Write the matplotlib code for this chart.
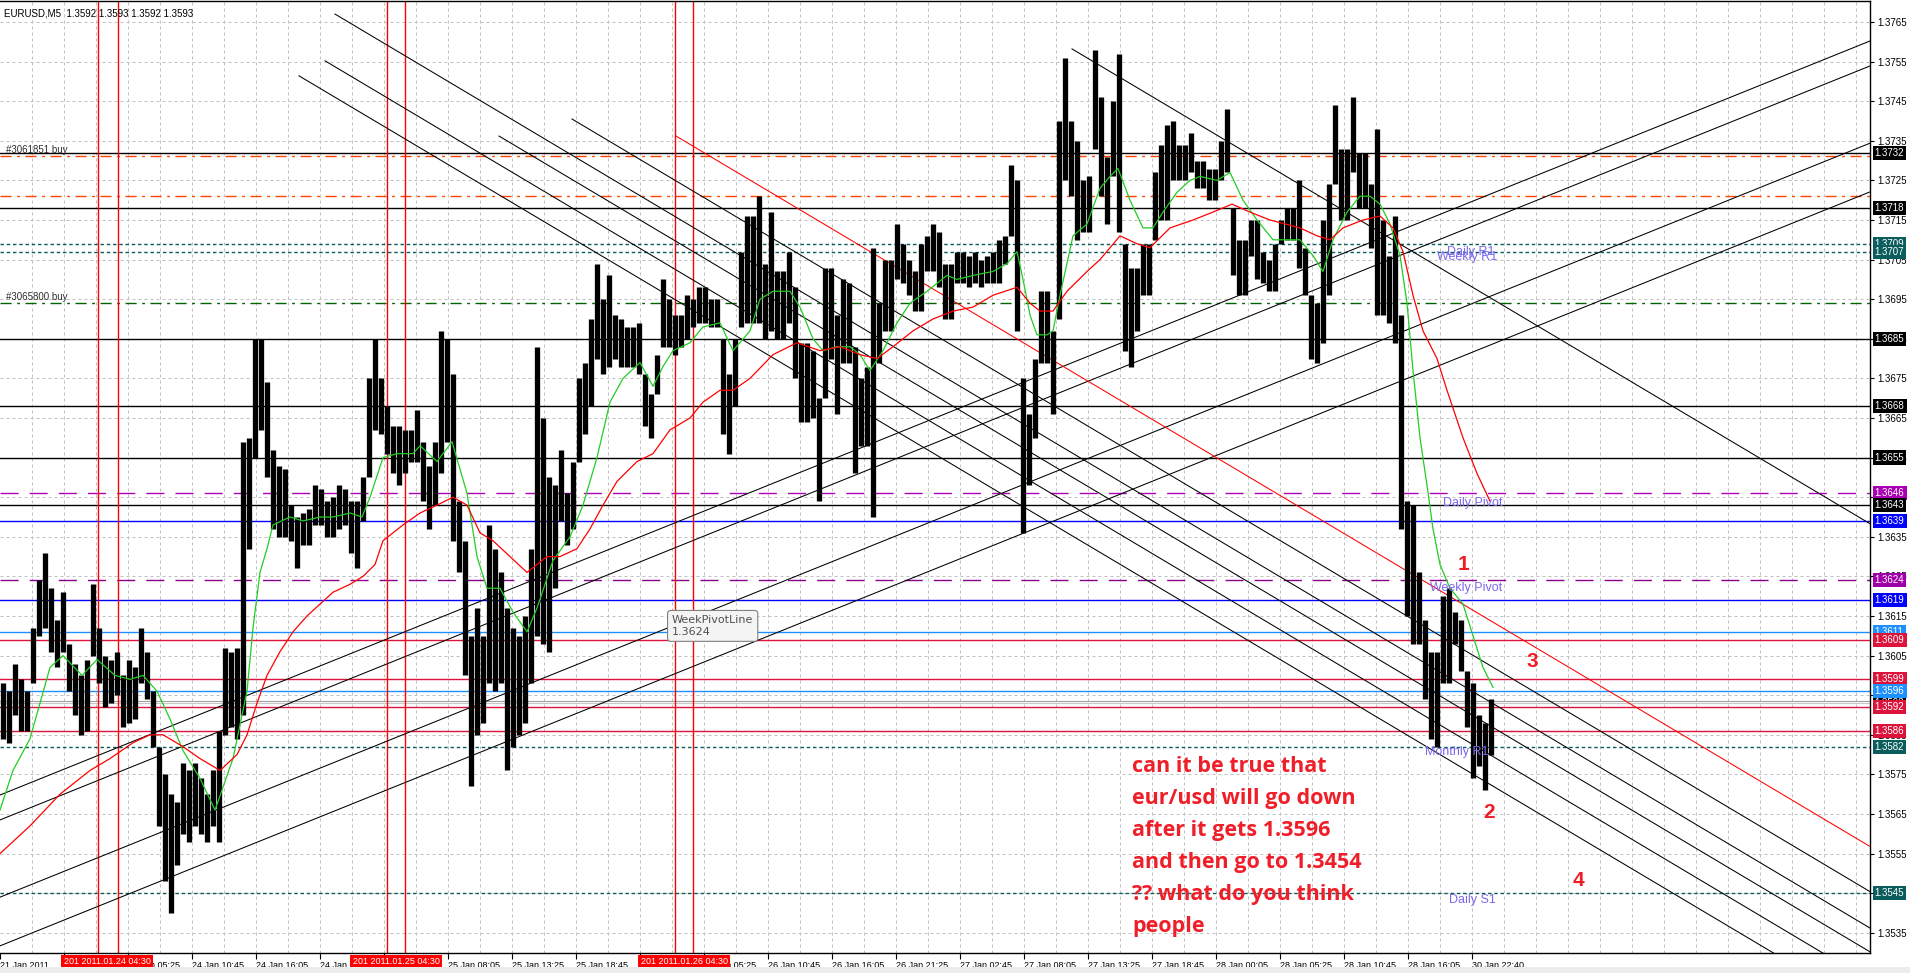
import numpy as np
import matplotlib.pyplot as plt
from matplotlib.transforms import blended_transform_factory

plt.rcParams['font.family'] = ['Liberation Sans', 'DejaVu Sans']

# EURUSD M5, grouped by 6 bars (30 min); highs / lows in pips (3596 -> 1.3596)
BARS_PER_BUCKET = 6
bucket_high = [
    3598, 3596, 3603, 3599, 3596, 3612, 3624, 3631, 3622, 3614,
    3621, 3608, 3603, 3600, 3604, 3623, 3612, 3605, 3604, 3606,
    3600, 3604, 3602, 3612, 3606, 3596, 3582, 3575, 3570, 3568,
    3578, 3576, 3578, 3574, 3570, 3576, 3586, 3607, 3606, 3607,
    3659, 3660, 3685, 3685, 3674, 3657, 3653, 3652, 3643, 3640,
    3641, 3642, 3648, 3647, 3644, 3645, 3648, 3647, 3644, 3644,
    3650, 3675, 3685, 3675, 3668, 3663, 3663, 3662, 3662, 3667,
    3659, 3653, 3659, 3687, 3685, 3676, 3644, 3634, 3610, 3617,
    3610, 3638, 3632, 3626, 3617, 3612, 3610, 3615, 3632, 3683,
    3665, 3650, 3648, 3657, 3646, 3654, 3675, 3679, 3690, 3704,
    3695, 3701, 3691, 3690, 3688, 3688, 3689, 3676, 3671, 3681,
    3700, 3695, 3691, 3691, 3696, 3695, 3698, 3698, 3695, 3695,
    3685, 3676, 3685, 3707, 3716, 3716, 3721, 3704, 3717, 3702,
    3702, 3707, 3698, 3684, 3684, 3682, 3670, 3703, 3703, 3691,
    3700, 3699, 3683, 3675, 3678, 3708, 3694, 3705, 3705, 3714,
    3709, 3705, 3702, 3709, 3711, 3714, 3712, 3704, 3704, 3707,
    3707, 3706, 3707, 3705, 3706, 3707, 3710, 3711, 3729, 3725,
    3675, 3666, 3680, 3697, 3697, 3687, 3740, 3756, 3740, 3735,
    3725, 3726, 3758, 3746, 3731, 3745, 3757, 3709, 3703, 3703,
    3709, 3709, 3727, 3734, 3739, 3740, 3734, 3734, 3737, 3730,
    3730, 3728, 3728, 3735, 3743, 3718, 3710, 3710, 3715, 3715,
    3707, 3705, 3709, 3715, 3718, 3718, 3725, 3708, 3696, 3694,
    3715, 3724, 3744, 3733, 3733, 3746, 3732, 3732, 3724, 3738,
    3715, 3706, 3716, 3691, 3644, 3643, 3626, 3614, 3606, 3606,
    3620, 3622, 3616, 3614, 3601, 3598, 3590, 3588, 3594]
bucket_low = [
    3584, 3583, 3590, 3586, 3586, 3598, 3610, 3612, 3606, 3602,
    3606, 3596, 3590, 3585, 3586, 3605, 3598, 3592, 3593, 3595,
    3587, 3588, 3589, 3598, 3594, 3582, 3562, 3548, 3540, 3552,
    3560, 3558, 3562, 3560, 3558, 3562, 3558, 3585, 3587, 3584,
    3590, 3632, 3655, 3662, 3650, 3637, 3635, 3635, 3634, 3627,
    3633, 3633, 3638, 3638, 3635, 3635, 3637, 3638, 3631, 3627,
    3639, 3650, 3662, 3661, 3656, 3651, 3648, 3651, 3654, 3654,
    3644, 3637, 3643, 3651, 3659, 3634, 3626, 3600, 3572, 3585,
    3588, 3598, 3596, 3598, 3576, 3582, 3585, 3588, 3598, 3610,
    3608, 3606, 3622, 3639, 3633, 3637, 3654, 3661, 3668, 3680,
    3676, 3678, 3680, 3678, 3678, 3678, 3676, 3663, 3660, 3671,
    3683, 3683, 3681, 3683, 3685, 3688, 3689, 3689, 3688, 3688,
    3661, 3656, 3668, 3688, 3689, 3689, 3689, 3685, 3687, 3685,
    3685, 3689, 3675, 3664, 3664, 3665, 3644, 3670, 3680, 3666,
    3679, 3679, 3651, 3658, 3658, 3640, 3679, 3687, 3687, 3700,
    3699, 3696, 3692, 3692, 3702, 3702, 3698, 3690, 3690, 3699,
    3699, 3698, 3699, 3698, 3699, 3699, 3699, 3704, 3711, 3687,
    3636, 3648, 3660, 3679, 3679, 3666, 3690, 3725, 3721, 3710,
    3712, 3712, 3733, 3721, 3714, 3726, 3712, 3682, 3678, 3687,
    3696, 3696, 3710, 3715, 3715, 3725, 3725, 3725, 3727, 3723,
    3723, 3720, 3720, 3725, 3727, 3701, 3696, 3696, 3706, 3700,
    3699, 3697, 3697, 3709, 3710, 3710, 3703, 3696, 3680, 3679,
    3684, 3696, 3724, 3715, 3715, 3727, 3718, 3718, 3708, 3691,
    3691, 3689, 3684, 3637, 3615, 3608, 3608, 3594, 3584, 3582,
    3598, 3598, 3608, 3601, 3587, 3574, 3577, 3571, 3580]

# moving averages: (bar index, pips)
ma_fast_bar = [0, 13, 30, 50, 63, 82, 97, 115, 130, 143, 157, 170, 183, 200, 215, 233, 247, 253, 260, 267,
               273, 290, 303, 320, 333, 350, 362, 370, 383, 397, 413, 420, 437, 452, 467, 477, 487, 500, 513, 527,
               537, 553, 570, 583, 597, 610, 623, 640, 653, 663, 673, 690, 703, 720, 733, 750, 760, 773, 790, 800,
               813, 823, 837, 850, 860, 870, 883, 897, 910, 927, 947, 957, 973, 993, 1007, 1017, 1023, 1030, 1037, 1047,
               1053, 1060, 1073, 1087, 1100, 1110, 1118, 1130, 1143, 1153, 1163, 1177, 1190, 1200, 1217, 1230, 1243, 1257, 1273, 1290,
               1300, 1313, 1323, 1333, 1347, 1360, 1370, 1380, 1390, 1400, 1407, 1413, 1420, 1427, 1433, 1440, 1450, 1463, 1473, 1483,
               1493]
ma_fast_pips = [3566, 3576, 3584, 3602, 3605, 3600, 3604, 3600, 3599, 3600, 3596, 3589, 3581, 3574, 3566, 3579, 3596, 3612, 3626, 3632,
                3638, 3640, 3639, 3640, 3640, 3641, 3640, 3645, 3655, 3656, 3656, 3658, 3654, 3659, 3646, 3630, 3622, 3622, 3616, 3611,
                3617, 3629, 3635, 3643, 3655, 3669, 3675, 3679, 3673, 3678, 3682, 3684, 3688, 3689, 3682, 3687, 3695, 3697, 3697, 3693,
                3685, 3682, 3683, 3683, 3681, 3677, 3682, 3689, 3694, 3697, 3701, 3700, 3701, 3702, 3704, 3707, 3700, 3691, 3686, 3686,
                3687, 3696, 3711, 3714, 3723, 3726, 3728, 3720, 3713, 3713, 3717, 3722, 3725, 3726, 3725, 3727, 3720, 3715, 3710, 3710,
                3710, 3706, 3702, 3710, 3717, 3721, 3721, 3719, 3714, 3706, 3694, 3677, 3660, 3648, 3637, 3628, 3622, 3618, 3610, 3602,
                3597]
ma_slow_bar = [0, 30, 60, 90, 110, 133, 150, 163, 183, 200, 220, 237, 247, 257, 267, 280, 293, 307, 320, 333,
               350, 363, 375, 383, 403, 420, 437, 453, 467, 480, 493, 510, 527, 537, 547, 560, 577, 590, 603, 617,
               637, 653, 670, 690, 703, 720, 733, 750, 773, 797, 820, 840, 860, 877, 893, 913, 933, 953, 973, 993,
               1017, 1030, 1040, 1053, 1067, 1087, 1100, 1120, 1137, 1150, 1170, 1193, 1213, 1232, 1250, 1270, 1300, 1317, 1330, 1343,
               1363, 1380, 1393, 1403, 1413, 1423, 1437, 1447, 1463, 1477, 1490]
ma_slow_pips = [3555, 3562, 3570, 3576, 3579, 3583, 3585, 3585, 3582, 3579, 3576, 3580, 3585, 3593, 3600, 3606, 3611, 3615, 3618, 3621,
                3623, 3625, 3628, 3634, 3638, 3641, 3643, 3645, 3643, 3636, 3634, 3630, 3626, 3628, 3630, 3630, 3632, 3637, 3643, 3649,
                3654, 3656, 3662, 3665, 3669, 3672, 3672, 3675, 3681, 3684, 3682, 3683, 3681, 3680, 3683, 3687, 3690, 3692, 3693, 3696,
                3698, 3694, 3692, 3692, 3697, 3702, 3705, 3711, 3709, 3708, 3713, 3715, 3717, 3719, 3717, 3715, 3713, 3711, 3710, 3713,
                3715, 3716, 3713, 3707, 3696, 3687, 3680, 3672, 3660, 3651, 3644]

# horizontal levels
black_levels = [1.3732, 1.3718, 1.3685, 1.3668, 1.3655, 1.3643]
blue_levels = [1.3639, 1.3619]
dodger_levels = [1.3611, 1.3596]
crimson_levels = [1.3609, 1.3599, 1.3592, 1.3586]
pivot_dotted_levels = [1.3709, 1.3707, 1.3582, 1.3545]
pivot_dashed_levels = [1.3646, 1.3624]
order_sl_tp_levels = [1.37311, 1.37210]
order2_level = 1.36941
bid_levels = [1.35935, 1.3593]

# right scale price boxes (price, background)
box_prices = [1.3732, 1.3718, 1.3709, 1.3707, 1.3685, 1.3668, 1.3655, 1.3646, 1.3643, 1.3639,
              1.3624, 1.3619, 1.3611, 1.3609, 1.3599, 1.3593, 1.3596, 1.3592, 1.3586, 1.3582, 1.3545]
box_colors = ['black', 'black', '#0b5c5c', '#0b5c5c', 'black', 'black', 'black', '#a800b4', 'black', '#0000ff',
              '#a000a8', '#0000ff', '#1e90ff', '#dc143c', '#dc143c', 'black', '#1e90ff', '#dc143c', '#dc143c', '#0b5c5c', '#0b5c5c']

# trend lines: (bar1, price1, bar2, price2)
down_lines = [(335, 1.37670, 1870, 1.35362), (325, 1.37552, 1870, 1.35228), (299, 1.37514, 1870, 1.35154),
              (499, 1.37362, 1870, 1.35302), (572, 1.37405, 1870, 1.35454), (1072, 1.37582, 1870, 1.36383)]
red_down_line = (676, 1.37362, 1870, 1.35568)
up_lines = [(0, 1.35698, 1870, 1.37602), (0, 1.35635, 1870, 1.37539),
            (0, 1.35440, 1870, 1.37344), (0, 1.35317, 1870, 1.37221)]

vline_bars = [98, 118, 387, 405, 675, 693]
vline_labels = ['201 2011.01.24 04:30', '201 2011.01.25 04:30', '201 2011.01.26 04:30']
vline_label_bars = [107, 396, 684]

time_ticks = list(range(0, 1473, 64))
time_labels = ['21 Jan 2011', '24 Jan 00:05', '24 Jan 05:25', '24 Jan 10:45', '24 Jan 16:05', '24 Jan 21:25',
               '25 Jan 02:45', '25 Jan 08:05', '25 Jan 13:25', '25 Jan 18:45', '26 Jan 00:05', '26 Jan 05:25',
               '26 Jan 10:45', '26 Jan 16:05', '26 Jan 21:25', '27 Jan 02:45', '27 Jan 08:05', '27 Jan 13:25',
               '27 Jan 18:45', '28 Jan 00:05', '28 Jan 05:25', '28 Jan 10:45', '28 Jan 16:05', '30 Jan 22:40']

level_text = ['Daily R1', 'Weekly R1', 'Daily Pivot', 'Weekly Pivot', 'Monthly R1', 'Daily S1']
level_text_bar = [1447, 1437, 1443, 1430, 1425, 1449]
level_text_price = [1.37069, 1.37057, 1.36435, 1.36221, 1.35807, 1.35433]

wave_marks = ['1', '2', '3', '4']
wave_bar = [1458, 1483, 1526, 1573]
wave_price = [1.36279, 1.35653, 1.36036, 1.35483]

question = ("can it be true that\neur/usd will go down\nafter it gets 1.3596\n"
            "and then go to 1.3454\n?? what do you think\npeople")

fig = plt.figure(figsize=(19.10, 9.73), dpi=100)
ax = fig.add_axes([0, 20 / 973, 1870 / 1910, 952 / 973])
ax.set_xlim(0, 1870)
ax.set_ylim(1.35299, 1.37703)

px = 0.72  # one pixel in points
# grid
for gx in range(32, 1870, 32):
    ax.axvline(gx, color='#c0c0c0', lw=px, ls=(0, (3, 3)), zorder=0)
price_ticks = [round(1.3535 + 0.001 * k, 4) for k in range(24)]
for gy in price_ticks:
    ax.axhline(gy, color='#c0c0c0', lw=px, ls=(0, (3, 3)), zorder=0)

# horizontal levels
for lv in black_levels:
    ax.axhline(lv, color='black', lw=1.0, zorder=2)
for lv in blue_levels:
    ax.axhline(lv, color='#0000ff', lw=1.0, zorder=2)
for lv in dodger_levels:
    ax.axhline(lv, color='#1e90ff', lw=1.0, zorder=2)
for lv in crimson_levels:
    ax.axhline(lv, color='#dc143c', lw=1.0, zorder=2)
for lv in pivot_dotted_levels:
    ax.axhline(lv, color='#0b5c5c', lw=1.0, ls=(0, (2.5, 2)), zorder=2)
ax.axhline(pivot_dashed_levels[0], color='#b000b8', lw=1.0, ls=(0, (13, 8)), zorder=2)
ax.axhline(pivot_dashed_levels[1], color='#8a008a', lw=1.0, ls=(0, (13, 8)), zorder=2)
for lv in order_sl_tp_levels:
    ax.axhline(lv, color='#ff4500', lw=1.0, ls=(0, (8, 4, 2, 4)), zorder=2)
ax.axhline(order2_level, color='#006400', lw=1.0, ls=(0, (8, 4, 2, 4)), zorder=2)
ax.axhline(bid_levels[0], color='#a0a0a0', lw=0.8, zorder=2)
ax.axhline(bid_levels[1], color='#c8c8c8', lw=0.8, zorder=2)

for vb in vline_bars:
    ax.axvline(vb, color='#ff0000', lw=1.0, zorder=2)

# trend lines
for x1, p1, x2, p2 in down_lines + up_lines:
    ax.plot([x1, x2], [p1, p2], color='black', lw=0.75, zorder=3)
ax.plot([red_down_line[0], red_down_line[2]], [red_down_line[1], red_down_line[3]],
        color='#ff0000', lw=0.75, zorder=3)

# price bars
hi = np.array(bucket_high) / 10000 + 1.0
lo = np.array(bucket_low) / 10000 + 1.0
bx = np.arange(len(hi)) * BARS_PER_BUCKET + BARS_PER_BUCKET / 2
ax.vlines(bx, lo, hi, colors='black', lw=3.8, zorder=4, capstyle='butt')

# moving averages
ax.plot(ma_fast_bar, np.array(ma_fast_pips) / 10000 + 1.0, color='#22cc22', lw=0.9, zorder=5)
ax.plot(ma_slow_bar, np.array(ma_slow_pips) / 10000 + 1.0, color='#ff0000', lw=0.9, zorder=5)

# text objects
for t, xb, pr in zip(level_text, level_text_bar, level_text_price):
    ax.text(xb, pr, t, color='#7b68ee', fontsize=9, va='center', ha='left', zorder=6)
for t, xb, pr in zip(wave_marks, wave_bar, wave_price):
    ax.text(xb, pr, t, color='#ee1c25', fontsize=15, fontweight='bold', va='center', ha='left', zorder=6)
ax.text(1132, 1.35797, question, color='#f01e28', fontsize=15.5, fontweight='bold', family='Open Sans',
        va='top', ha='left', linespacing=1.69, zorder=6)
ax.text(6, 1.37327, '#3061851 buy', color='#303030', fontsize=7, va='center', ha='left', zorder=6)
ax.text(6, 1.36956, '#3065800 buy', color='#303030', fontsize=7, va='center', ha='left', zorder=6)
ax.text(672, 1.36125, 'WeekPivotLine\n1.3624', color='#505050', fontsize=8, family='DejaVu Sans',
        va='center', ha='left', linespacing=1.25, zorder=7,
        bbox=dict(boxstyle='round,pad=0.4,rounding_size=0.3', fc='#f4f4f4', ec='#808080', lw=0.8))

# axes styling
ax.spines['left'].set_visible(False)
for s in ['right', 'bottom', 'top']:
    ax.spines[s].set_linewidth(1.0)
ax.yaxis.tick_right()
ax.set_yticks(price_ticks)
ax.set_yticklabels(['%.4f' % p for p in price_ticks])
ax.tick_params(axis='y', length=3, width=0.8, labelsize=7, pad=2)
ax.set_xticks(time_ticks)
ax.set_xticklabels(time_labels)
ax.tick_params(axis='x', length=4, width=0.8, labelsize=6.5, pad=2)
for lbl in ax.get_xticklabels():
    lbl.set_ha('left')

trans_y = blended_transform_factory(ax.transAxes, ax.transData)
for pr, c in zip(box_prices, box_colors):
    ax.text(1.0025, pr, '%.4f' % pr, transform=trans_y, color='white', fontsize=7, va='center', ha='left',
            clip_on=False, zorder=8,
            bbox=dict(boxstyle='square,pad=0.22', fc=c, ec=c, lw=0))

trans_x = blended_transform_factory(ax.transData, ax.transAxes)
for xb, t in zip(vline_label_bars, vline_labels):
    ax.text(xb, -0.004, t, transform=trans_x, color='white', fontsize=6.5, va='top', ha='center',
            clip_on=False, zorder=8, bbox=dict(boxstyle='square,pad=0.25', fc='#ff0000', ec='#ff0000', lw=0))

fig.text(4 / 1910, 1 - 13 / 973, 'EURUSD,M5  1.3592 1.3593 1.3592 1.3593', fontsize=7, va='center', ha='left')
fig.patches.append(plt.Rectangle((0, 0), 1, 6 / 973, transform=fig.transFigure, fc='#ececec', ec='none'))

fig.savefig('out.png', dpi=100)
